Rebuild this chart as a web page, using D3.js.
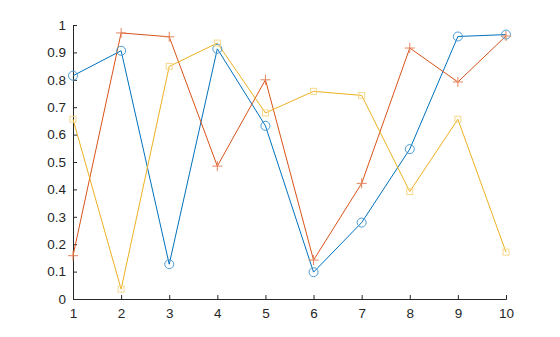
<!DOCTYPE html>
<html>
<head>
<meta charset="utf-8">
<script src="https://cdn.jsdelivr.net/npm/d3@7"></script>
<style>
body { margin: 0; background: #fff; }
</style>
</head>
<body>
<svg id="chart"></svg>
<script>
// x values and the three series
var xVals = [1, 2, 3, 4, 5, 6, 7, 8, 9, 10];
var seriesBlue = [0.815, 0.906, 0.127, 0.913, 0.632, 0.098, 0.279, 0.547, 0.958, 0.965];
var seriesRed = [0.158, 0.971, 0.957, 0.485, 0.800, 0.142, 0.422, 0.916, 0.792, 0.960];
var seriesYellow = [0.656, 0.036, 0.849, 0.934, 0.679, 0.758, 0.743, 0.392, 0.656, 0.171];
var yTicks = [0, 0.1, 0.2, 0.3, 0.4, 0.5, 0.6, 0.7, 0.8, 0.9, 1];

var width = 560, height = 337;
var marginLeft = 73, plotRight = 506, plotTop = 25, plotBottom = 299;

var svg = d3.select("#chart")
	.attr("width", width)
	.attr("height", height);

var x = d3.scaleLinear().domain([1, 10]).range([marginLeft, plotRight]);
var y = d3.scaleLinear().domain([0, 1]).range([plotBottom, plotTop]);

//axes
var xAxis = svg.append("g")
	.attr("transform", "translate(0," + plotBottom + ")")
	.call(d3.axisBottom(x).tickValues(xVals).tickSize(-4).tickPadding(8).tickFormat(d3.format("d")));
var yAxis = svg.append("g")
	.attr("transform", "translate(" + marginLeft + ",0)")
	.call(d3.axisLeft(y).tickValues(yTicks).tickSize(-4).tickPadding(7).tickFormat(function(d){ return d === 0 || d === 1 ? d : d3.format(".1f")(d); }));

[xAxis, yAxis].forEach(function(a){
	a.attr("font-family", "'Liberation Sans', Arial, sans-serif").attr("font-size", 13.5);
	a.select(".domain").attr("stroke", "#262626").attr("stroke-width", 1);
	a.selectAll(".tick line").attr("stroke", "#262626");
	a.selectAll(".tick text").attr("fill", "#262626");
});
xAxis.selectAll(".tick text").attr("dy", "0.8em");

//lines
var series = [
	{ vals: seriesBlue, color: "#0072BD", marker: "#4D9CD1", type: "circle" },
	{ vals: seriesRed, color: "#D95319", marker: "#E5835A", type: "plus" },
	{ vals: seriesYellow, color: "#EDB120", marker: "#F5D88C", type: "square" }
];

var line = d3.line()
	.x(function(d, i) { return x(xVals[i]); })
	.y(function(d) { return y(d); });

series.forEach(function(s){
	svg.append("path")
		.datum(s.vals)
		.attr("d", line)
		.style("fill", "none")
		.style("stroke", s.color)
		.style("stroke-width", "1px");
});

series.forEach(function(s){
	var g = svg.append("g");
	s.vals.forEach(function(v, i){
		var cx = x(xVals[i]), cy = y(v);
		if (s.type == "circle") {
			g.append("circle").attr("cx", cx).attr("cy", cy).attr("r", 4.5)
				.style("fill", "none").style("stroke", s.marker).style("stroke-width", 1);
		} else if (s.type == "plus") {
			g.append("path").attr("d", "M" + (cx - 5) + "," + cy + "H" + (cx + 5) + "M" + cx + "," + (cy - 5) + "V" + (cy + 5))
				.style("fill", "none").style("stroke", s.marker).style("stroke-width", 1);
		} else {
			g.append("rect").attr("x", cx - 3).attr("y", cy - 3).attr("width", 6).attr("height", 6)
				.style("fill", "none").style("stroke", s.marker).style("stroke-width", 1);
		}
	});
});
</script>
</body>
</html>
